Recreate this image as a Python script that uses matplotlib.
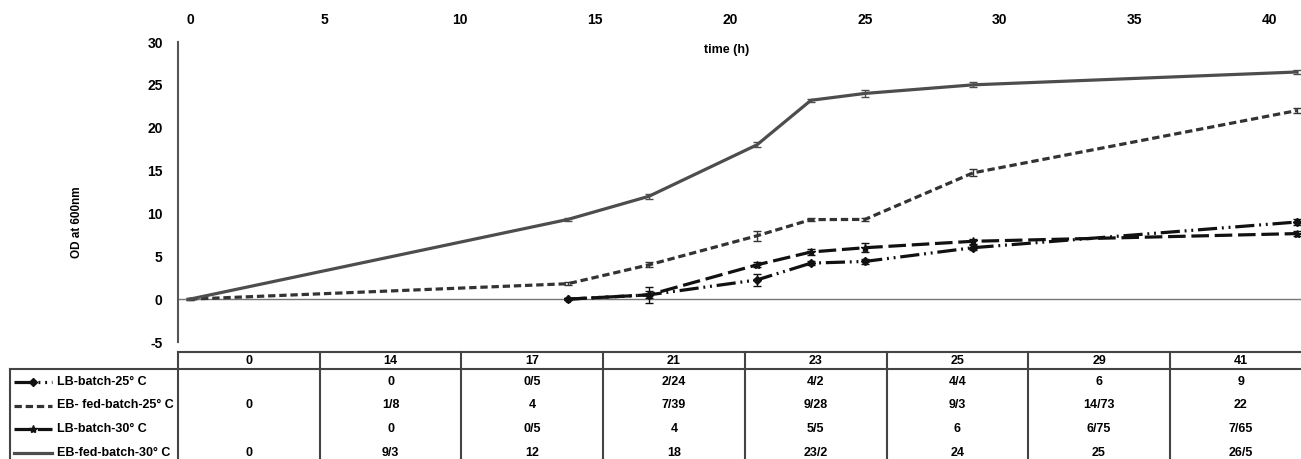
import numpy as np
import matplotlib
matplotlib.use('Agg')
from matplotlib import pyplot as plt
from matplotlib.lines import Line2D

# dados: tempo (h) e OD a 600nm
tempos = [0, 14, 17, 21, 23, 25, 29, 41]
nomes = ['LB-batch-25° C', 'EB- fed-batch-25° C', 'LB-batch-30° C', 'EB-fed-batch-30° C']

lb_25 = [np.nan, 0, 0.5, 2.24, 4.2, 4.4, 6, 9]
eb_25 = [0, 1.8, 4, 7.39, 9.28, 9.3, 14.73, 22]
lb_30 = [np.nan, 0, 0.5, 4, 5.5, 6, 6.75, 7.65]
eb_30 = [0, 9.3, 12, 18, 23.2, 24, 25, 26.5]

# desvios (estimados pela figura)
err_lb_25 = [np.nan, 0.1, 0.4, 0.75, 0.2, 0.3, 0.3, 0.3]
err_eb_25 = [0.1, 0.15, 0.3, 0.6, 0.2, 0.15, 0.4, 0.3]
err_lb_30 = [np.nan, 0.1, 0.9, 0.3, 0.4, 0.5, 0.3, 0.3]
err_eb_30 = [0.1, 0.2, 0.3, 0.3, 0.2, 0.4, 0.3, 0.2]

yticks = [-5, 0, 5, 10, 15, 20, 25, 30]
xticks = [0, 5, 10, 15, 20, 25, 30, 35, 40]

series = [lb_25, eb_25, lb_30, eb_30]
erros = [err_lb_25, err_eb_25, err_lb_30, err_eb_30]
estilos = [
    dict(color='#111111', dashes=(6, 1.5, 0.6, 1.5, 0.6, 1.5), marker='D', ms=4),
    dict(color='#333333', dashes=(2.3, 1.2), marker=None, ms=0),
    dict(color='#111111', dashes=(5.5, 1.8), marker='*', ms=6),
    dict(color='#4d4d4d', dashes=(None, None), marker=None, ms=0),
]

W, H = 1301, 459
plt.rcParams['font.family'] = ['Liberation Sans', 'DejaVu Sans']
plt.rcParams['font.weight'] = 'bold'
plt.rcParams['axes.unicode_minus'] = False
fig = plt.figure(figsize=(W / 100, H / 100), dpi=100)

def fx(px): return px / W
def fy(py): return 1 - py / H

ax = fig.add_axes([fx(178), fy(342), fx(1301) - fx(178), fy(42) - fy(342)])

for y, e, st in zip(series, erros, estilos):
    ax.errorbar(tempos, y, yerr=e, fmt='none', ecolor=st['color'], elinewidth=1, capsize=3, capthick=1, zorder=3)
    ln, = ax.plot(tempos, y, color=st['color'], lw=2.3, marker=st['marker'], ms=st['ms'], zorder=4)
    if st['dashes'][0] is not None:
        ln.set_dashes(st['dashes'])

ax.axhline(0, color='#777777', lw=1, zorder=1)
ax.set_xlim(-0.44, 41.15)
ax.set_ylim(-5, 30)
ax.set_yticks(yticks)
ax.set_xticks(xticks)
ax.xaxis.tick_top()
ax.tick_params(axis='x', length=0, pad=11, labelsize=10)
ax.tick_params(axis='y', length=0, pad=11, labelsize=10)
for lab in ax.get_xticklabels() + ax.get_yticklabels():
    lab.set_fontweight('bold')
for s in ['top', 'right', 'bottom']:
    ax.spines[s].set_visible(False)
ax.spines['left'].set_color('#555555')
ax.spines['left'].set_linewidth(1.5)

fig.text(fx(727), fy(50), 'time (h)', ha='center', va='center', fontsize=9, fontweight='bold')
fig.text(fx(77), fy(222), 'OD at 600nm', ha='center', va='center', rotation=90, fontsize=8.5, fontweight='bold')

# tabela de dados
cor_tab = '#444444'
col_l, col_w = 178, 141.7
topo, cab, linha_h = 352, 369, 23.5
fundo = H + 5
bordas = [col_l + i * col_w for i in range(len(tempos) + 1)]

def reta(x0, x1, y0, y1, **kw):
    fig.add_artist(Line2D([fx(x0), fx(x1)], [fy(y0), fy(y1)], color=kw.get('color', cor_tab), lw=kw.get('lw', 1.5)))

reta(col_l, W, topo, topo)
reta(10, W, cab, cab)
for b in bordas:
    if b <= W:
        reta(b, b, topo, fundo)
reta(10, 10, cab, fundo)

for i, t in enumerate(tempos):
    cx = (bordas[i] + bordas[i + 1]) / 2
    fig.text(fx(cx), fy((topo + cab) / 2 + 1), str(t), ha='center', va='center', fontsize=9, fontweight='bold')

def fmt(v):
    return '' if np.isnan(v) else f'{v:g}'.replace('.', '/')

for r, (y, nome, st) in enumerate(zip(series, nomes, estilos)):
    cy = 382 + r * linha_h
    for i, v in enumerate(y):
        cx = (bordas[i] + bordas[i + 1]) / 2
        fig.text(fx(cx), fy(cy), fmt(v), ha='center', va='center', fontsize=9, fontweight='bold')
    # chave da legenda
    chave = Line2D([fx(14), fx(52)], [fy(cy), fy(cy)], color=st['color'], lw=2.3)
    if st['dashes'][0] is not None:
        chave.set_dashes(st['dashes'])
    fig.add_artist(chave)
    if st['marker']:
        fig.add_artist(Line2D([fx(33)], [fy(cy)], color=st['color'], marker=st['marker'], ms=st['ms'], lw=0))
    fig.text(fx(57), fy(cy), nome, ha='left', va='center', fontsize=9, fontweight='bold')

fig.savefig('out.png', dpi=100)
